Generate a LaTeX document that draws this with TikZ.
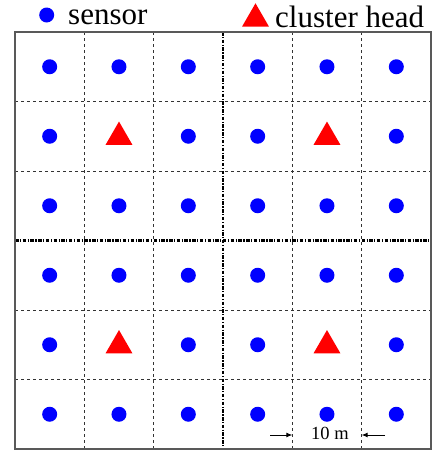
\documentclass[tikz,border=0pt]{standalone}
\usepackage{fontspec}
\setmainfont{Liberation Serif}
\usetikzlibrary{shapes.geometric,arrows.meta}
\begin{document}
\begin{tikzpicture}[x=1pt,y=-1pt,
 sensor/.style={circle,fill=blue,inner sep=0pt,minimum size=15pt},
 chead/.style={regular polygon,regular polygon sides=3,fill=red,inner sep=0pt,minimum size=31pt},
 gridline/.style={black!80,line width=0.9pt,dash pattern=on 3pt off 3pt},
 midline/.style={black,line width=2.2pt,dash pattern=on 3.5pt off 1.5pt on 1.2pt off 1.5pt},
 frameline/.style={black!65,line width=1.2pt},
 dimarrow/.style={-{Latex[length=6pt,width=5pt]},line width=0.9pt},
 legtext/.style={font=\fontsize{31}{31}\selectfont,inner sep=0pt},
 dimtext/.style={font=\fontsize{18.5}{18.5}\selectfont,inner sep=0pt}]
\useasboundingbox (0,0) rectangle (433,451);
\def\xo{15}\def\yo{32}\def\cw{69.33}\def\ch{69.5}
% grid lines
\foreach \i in {1,2,4,5}{
  \draw[gridline] ({\xo+\i*\cw},\yo) -- ({\xo+\i*\cw},{\yo+6*\ch});
  \draw[gridline] (\xo,{\yo+\i*\ch}) -- ({\xo+6*\cw},{\yo+\i*\ch});
}
\draw[midline] ({\xo+3*\cw},\yo) -- ({\xo+3*\cw},{\yo+6*\ch});
\draw[midline] (\xo,{\yo+3*\ch}) -- ({\xo+6*\cw},{\yo+3*\ch});
% frame
\draw[frameline] (\xo,\yo) rectangle ({\xo+6*\cw},{\yo+6*\ch});
% sensors and cluster heads
\foreach \r in {0,...,5}{
  \foreach \c in {0,...,5}{
    \pgfmathtruncatemacro{\ishead}{((\r==1)||(\r==4))&&((\c==1)||(\c==4))?1:0}
    \ifnum\ishead=1
      \node[chead] (h-\r-\c) at ({\xo+(\c+0.5)*\cw},{\yo+(\r+0.5)*\ch+0.8}) {};
    \else
      \node[sensor] (s-\r-\c) at ({\xo+(\c+0.5)*\cw},{\yo+(\r+0.5)*\ch}) {};
    \fi
  }
}
% legend
\node[sensor] (legdot) at (46.7,15) {};
\node[legtext,anchor=base west] (legsensor) at (68,24) {sensor};
\node[chead] (legtri) at (255.5,18.8) {};
\node[legtext,anchor=base west] (leghead) at (275,27) {cluster head};
% dimension
\node[dimtext,anchor=base] (dimlabel) at (330,439) {10 m};
\coordinate (dlA) at (270,435);
\coordinate (dlB) at ({\xo+4*\cw},435);
\coordinate (drA) at (385,435);
\coordinate (drB) at ({\xo+5*\cw},435);
\draw[dimarrow] (dlA) -- (dlB);
\draw[dimarrow] (drA) -- (drB);
\end{tikzpicture}
\end{document}
